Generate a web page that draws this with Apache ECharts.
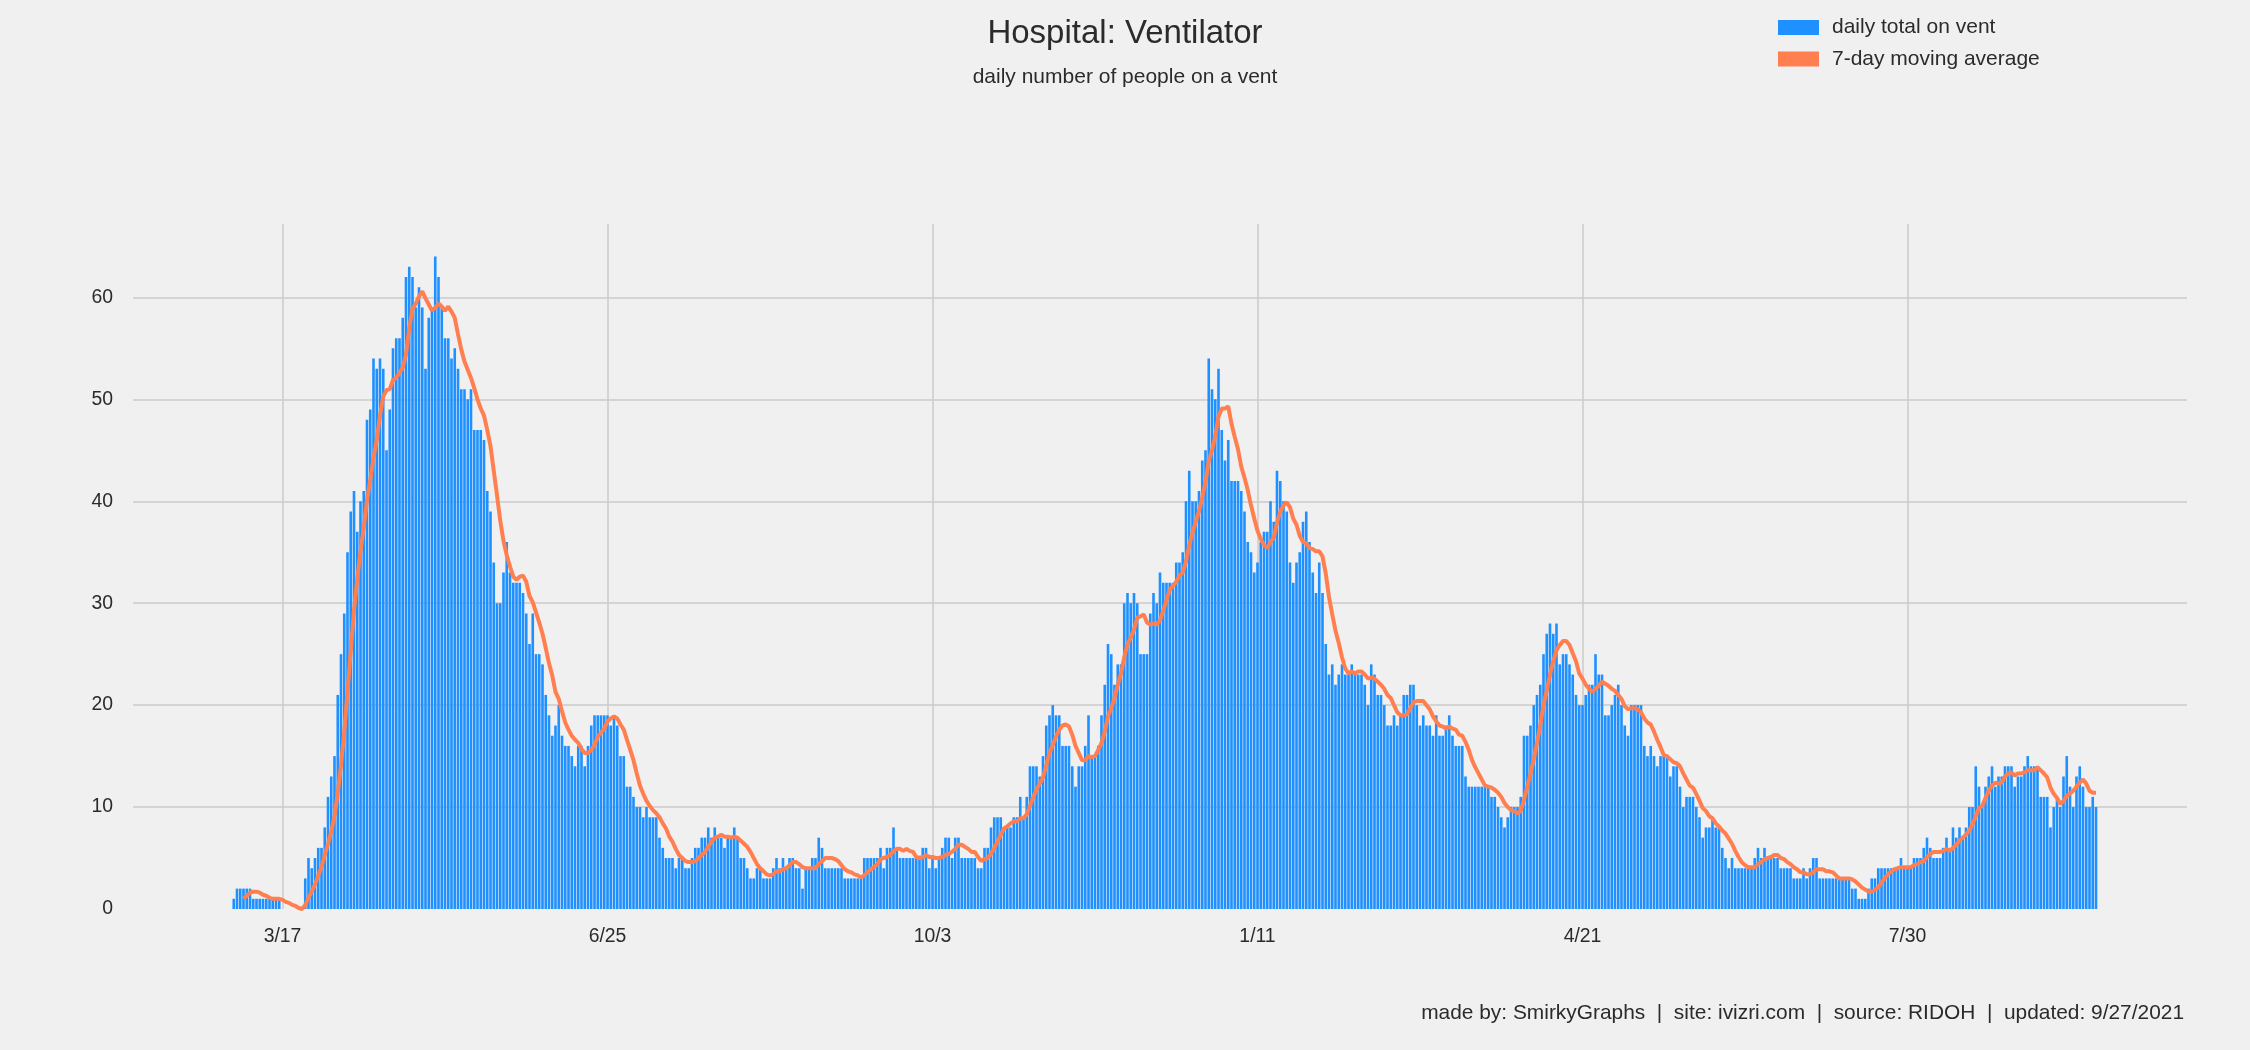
<!DOCTYPE html>
<html>
<head>
<meta charset="utf-8">
<script src="https://cdn.jsdelivr.net/npm/echarts@6/dist/echarts.min.js"></script>
<style>
html,body{margin:0;padding:0;background:#f0f0f0;}
#chart{width:2250px;height:1050px;}
</style>
</head>
<body>
<div id="chart"></div>
<script>
// Day offsets are counted from 3/17/2020 (day 0); the first value is 2/28/2020.
const firstDay = -18;

// daily total on vent (one value per day, 2/28/2020 .. 9/26/2021)
const onVent = [
0,0,0,1,2,2,2, 2,2,1,1,1,1,1, 1,1,1,1,0,0,0, 0,0,0,0,3,5,4,
5,6,6,8,11,13,15, 21,25,29,35,39,41,37, 40,41,48,49,54,53,54, 53,45,49,55,56,56,58,
62,63,62,59,61,59,53, 58,59,64,62,59,56,56, 54,55,53,51,51,50,51, 47,47,47,46,41,39,34,
30,30,33,36,33,32,32, 32,31,29,26,29,25,25, 24,21,19,17,18,20,17, 16,16,15,14,16,16,14,
16,18,19,19,19,19,19, 18,19,18,15,15,12,12, 11,10,10,9,10,9,9, 9,7,6,5,5,5,4,
5,5,4,4,5,6,6, 7,7,8,7,8,7,7, 6,7,7,8,7,5,5, 4,3,3,4,4,3,3,
3,4,5,4,5,4,5, 5,4,4,2,4,4,5, 5,7,6,4,4,4,4, 4,4,3,3,3,3,3,
3,5,5,5,5,5,6, 4,6,6,8,6,5,5, 5,5,5,5,5,6,6, 4,5,4,5,6,7,7,
5,7,7,5,5,5,5, 5,4,4,6,6,8,9, 9,9,8,8,8,9,9, 11,9,11,14,14,14,13,
15,18,19,20,19,19,16, 16,16,14,12,14,14,16, 19,15,15,16,19,22,26, 25,22,24,24,30,31,30,
31,30,25,25,25,29,31, 30,33,32,32,32,32,34, 34,35,40,43,40,40,41, 44,45,54,51,50,53,47,
44,46,42,42,42,41,39, 36,35,33,34,36,37,37, 40,38,43,42,40,39,34, 32,34,35,38,39,36,33,
31,34,31,26,23,24,22, 23,24,23,23,24,23,23, 23,22,20,24,23,21,21, 20,18,18,19,18,19,21,
21,22,22,20,18,19,18, 18,17,19,17,17,18,19, 17,16,16,16,13,12,12, 12,12,12,12,12,11,11,
10,9,8,9,10,10,10, 11,17,17,18,20,21,22, 25,27,28,27,28,24,25, 25,24,23,21,20,20,21,
22,22,25,23,23,19,19, 20,21,22,20,18,17,20, 20,20,20,16,15,16,15, 14,15,15,15,13,14,14,
12,10,11,11,11,10,9, 7,8,8,9,8,8,6, 5,4,5,4,4,4,4, 4,4,5,6,5,6,5,
5,5,5,4,4,4,4, 3,3,3,4,3,4,5, 5,3,3,3,3,3,3, 3,3,3,3,2,2,1,
1,1,2,3,3,4,4, 4,4,4,4,4,5,4, 4,4,5,5,5,6,7, 6,5,5,5,6,7,6,
8,7,8,7,8,10,10, 14,12,10,12,13,14,12, 13,13,14,14,14,12,13, 13,14,15,14,14,14,11,
11,11,8,10,11,10,13, 15,12,10,13,14,12,10, 10,11,10
];

// 7-day moving average line (same days as onVent)
const avg7 = [
null,null,null,null,null,null,1.0,
1.3,1.6,1.7,1.7,1.6,1.4,1.3, 1.1,1.0,1.0,1.0,0.9,0.7,0.6, 0.4,0.3,0.1,0,0.4,1.1,1.7,
2.4,3.3,4.1,5.3,6.4,7.6,9.1, 11.4,14.1,17.4,21.3,25.3,29.3,32.4, 35.1,37.4,40.1,42.1,44.3,46.0,48.4,
50.3,50.9,51.0,51.9,52.1,52.6,53.1, 54.4,57.0,58.9,59.4,60.1,60.6,59.9, 59.3,58.7,59.0,59.4,59.1,58.7,59.1,
58.6,58.0,56.4,54.9,53.7,52.9,52.1, 51.1,50.0,49.1,48.4,47.0,45.4,43.0, 40.6,38.1,36.1,34.7,33.6,32.6,32.3,
32.6,32.7,32.1,30.7,30.1,29.1,28.1, 27.0,25.6,24.1,22.9,21.3,20.6,19.4, 18.3,17.6,17.0,16.6,16.3,15.7,15.3,
15.3,15.6,16.1,16.9,17.3,17.7,18.4, 18.7,18.9,18.7,18.1,17.6,16.6,15.6, 14.6,13.3,12.1,11.3,10.6,10.1,9.7,
9.4,9.0,8.4,7.9,7.1,6.6,5.9, 5.3,5.0,4.7,4.6,4.6,4.7,5.0, 5.3,5.6,6.1,6.6,7.0,7.1,7.3,
7.1,7.1,7.0,7.1,7.0,6.7,6.4, 6.1,5.6,5.0,4.4,4.0,3.7,3.4, 3.3,3.4,3.7,3.7,3.9,4.0,4.3,
4.6,4.6,4.4,4.1,4.0,4.0,4.0, 4.0,4.4,4.7,5.0,5.0,5.0,4.9, 4.7,4.3,3.9,3.7,3.6,3.4,3.3,
3.1,3.3,3.6,3.9,4.1,4.4,4.9, 5.0,5.1,5.3,5.7,5.9,5.9,5.7, 5.9,5.7,5.6,5.1,5.0,5.1,5.3,
5.1,5.1,5.0,5.0,5.1,5.3,5.4, 5.6,5.9,6.3,6.3,6.1,5.9,5.6, 5.6,5.1,4.7,4.9,5.0,5.4,6.0,
6.6,7.3,7.9,8.1,8.4,8.6,8.6, 8.9,8.9,9.3,10.1,11.0,11.7,12.3, 12.9,14.1,15.3,16.1,16.9,17.6,18.0,
18.1,17.9,17.1,16.0,15.3,14.6,14.6, 15.0,14.9,15.0,15.6,16.3,17.4,18.9, 19.7,20.7,22.0,23.1,24.7,26.0,26.6,
27.4,28.6,28.7,28.9,28.1,27.9,28.0, 27.9,28.3,29.3,30.3,31.3,31.7,32.1, 32.7,33.0,34.1,35.7,36.9,38.0,39.0,
40.4,41.9,43.9,45.0,46.4,48.3,49.1, 49.1,49.3,47.6,46.3,45.1,43.4,42.3, 41.1,39.6,38.3,37.1,36.3,35.7,35.4,
36.0,36.4,37.9,39.0,39.6,39.9,39.4, 38.3,37.7,36.6,36.0,35.9,35.4,35.3, 35.1,35.1,34.6,32.9,30.6,28.9,27.3,
26.1,24.7,23.6,23.1,23.3,23.1,23.3, 23.3,23.0,22.6,22.7,22.6,22.3,22.0, 21.6,21.0,20.7,20.0,19.3,19.0,19.0,
19.1,19.7,20.3,20.4,20.4,20.4,20.0, 19.6,18.9,18.4,18.0,17.9,17.7,17.9, 17.7,17.6,17.1,17.0,16.4,15.6,14.6,
13.9,13.3,12.7,12.1,12.0,11.9,11.7, 11.4,11.0,10.4,10.0,9.7,9.6,9.4, 9.6,10.7,12.0,13.3,14.7,16.3,18.0,
20.0,21.4,23.0,24.3,25.4,25.9,26.3, 26.3,25.9,25.1,24.3,23.1,22.6,22.0, 21.6,21.3,21.6,21.9,22.3,22.1,21.9,
21.6,21.4,21.0,20.6,19.9,19.6,19.7, 19.7,19.6,19.3,18.7,18.3,18.1,17.4, 16.6,15.9,15.1,15.0,14.7,14.4,14.3,
14.0,13.3,12.7,12.1,11.9,11.3,10.6, 9.9,9.6,9.1,8.9,8.4,8.1,7.7, 7.4,6.9,6.4,5.7,5.1,4.6,4.3,
4.1,4.1,4.1,4.4,4.6,4.9,5.0, 5.1,5.3,5.3,5.0,4.9,4.6,4.4, 4.1,3.9,3.6,3.6,3.4,3.4,3.6,
3.9,3.9,3.9,3.7,3.7,3.6,3.3, 3.0,3.0,3.0,3.0,2.9,2.7,2.4, 2.1,1.9,1.7,1.7,1.9,2.1,2.6,
3.0,3.4,3.7,3.9,4.0,4.1,4.1, 4.1,4.1,4.3,4.4,4.6,4.7,5.1, 5.4,5.6,5.6,5.6,5.7,5.9,5.7,
6.0,6.3,6.7,7.0,7.3,7.7,8.3, 9.1,9.9,10.1,10.9,11.6,12.1,12.4, 12.3,12.4,13.0,13.3,13.4,13.1,13.3,
13.3,13.4,13.6,13.6,13.6,13.9,13.6, 13.3,12.9,11.9,11.3,10.9,10.3,10.6, 11.1,11.3,11.6,12.0,12.4,12.7,12.3,
11.6,11.4,11.4
];

const tickDays = [0, 100, 200, 300, 400, 500];
const tickLabels = ['3/17', '6/25', '10/3', '1/11', '4/21', '7/30'];
const yTicks = [0, 10, 20, 30, 40, 50, 60];
const yGridTicks = [10, 20, 30, 40, 50, 60];

const titleText = 'Hospital: Ventilator';
const subtitleText = 'daily number of people on a vent';
const footerText = 'made by: SmirkyGraphs  |  site: ivizri.com  |  source: RIDOH  |  updated: 9/27/2021';
const seriesNames = ['daily total on vent', '7-day moving average'];

const FONT = '"Liberation Sans", Arial, Helvetica, sans-serif';
const TXT = '#2b2b2b';

const barData = onVent.map((v, i) => [firstDay + i, v]);
const lineData = avg7.map((v, i) => [firstDay + i, v]);

const chart = echarts.init(document.getElementById('chart'), null, {renderer: 'canvas'});
chart.setOption({
  backgroundColor: '#f0f0f0',
  animation: false,
  textStyle: {fontFamily: FONT},
  title: [
    {text: titleText, left: 'center', top: 12,
     textStyle: {fontFamily: FONT, fontSize: 33, fontWeight: 'normal', color: TXT}},
    {text: subtitleText, left: 'center', top: 62,
     textStyle: {fontFamily: FONT, fontSize: 21, fontWeight: 'normal', color: TXT}},
    {text: footerText, right: 61, top: 998,
     textStyle: {fontFamily: FONT, fontSize: 20.9, fontWeight: 'normal', color: TXT}}
  ],
  legend: {
    orient: 'vertical', left: 1773, top: 12,
    itemWidth: 41, itemHeight: 15, itemGap: 10.5,
    textStyle: {fontFamily: FONT, fontSize: 21, color: TXT, padding: [0, 0, 0, 8]},
    data: [{name: seriesNames[0], icon: 'rect'}, {name: seriesNames[1], icon: 'rect'}]
  },
  grid: {left: 133, right: 63, top: 224, bottom: 141, containLabel: false},
  xAxis: {
    type: 'value', min: -46, max: 586,
    axisLine: {show: false},
    axisTick: {show: false, customValues: tickDays},
    axisLabel: {
      customValues: tickDays,
      formatter: v => tickLabels[tickDays.indexOf(v)],
      fontFamily: FONT, fontSize: 19.4, color: TXT, margin: 18
    },
    splitLine: {show: true, lineStyle: {color: '#cbcbcb', width: 1.5}}
  },
  yAxis: {
    type: 'value', min: 0, max: 67.2,
    axisLine: {show: false},
    axisTick: {show: false, customValues: yGridTicks},
    axisLabel: {customValues: yTicks, fontFamily: FONT, fontSize: 19.4, color: TXT, margin: 20},
    splitLine: {show: true, lineStyle: {color: '#cbcbcb', width: 1.5}}
  },
  series: [
    {
      name: seriesNames[0], type: 'bar', data: barData, barWidth: '80%',
      itemStyle: {color: '#1E90FF'}
    },
    {
      name: seriesNames[1], type: 'line', data: lineData,
      showSymbol: false, symbol: 'none', connectNulls: false,
      itemStyle: {color: '#FF7F50'},
      lineStyle: {color: '#FF7F50', width: 4}
    }
  ]
});
</script>
</body>
</html>
